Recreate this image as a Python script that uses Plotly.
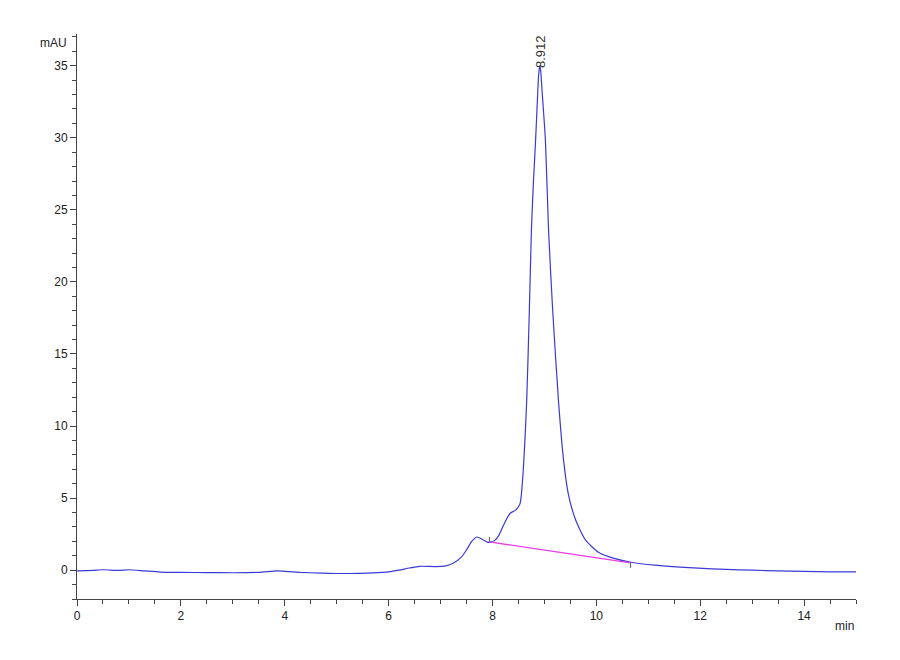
import plotly.graph_objects as go

# Хроматограмма: время удерживания (мин) и сигнал (mAU)
time_min = [0.0, 0.3, 0.5, 0.8, 1.0, 1.3, 1.6, 2.0, 2.5, 3.0, 3.5, 3.85, 4.0, 4.3,
            4.7, 5.0, 5.4, 5.8, 6.0, 6.2, 6.4, 6.6, 6.9, 7.1, 7.25, 7.4, 7.5, 7.6,
            7.7, 7.8, 7.9, 7.96, 8.04, 8.12, 8.21, 8.34, 8.44, 8.53, 8.57,
            8.61, 8.66, 8.71, 8.75, 8.79, 8.83, 8.87, 8.89, 8.912, 8.93, 8.96,
            9.02, 9.08, 9.16, 9.27, 9.37, 9.46, 9.6, 9.79, 10.04, 10.36, 10.67,
            11.13, 11.96, 12.5, 13.0, 13.5, 14.0, 14.5, 15.0]
signal_mau = [-0.05, -0.02, 0.03, -0.02, 0.03, -0.05, -0.13, -0.15, -0.17, -0.18,
              -0.15, -0.05, -0.08, -0.15, -0.2, -0.23, -0.22, -0.17, -0.12, 0.0,
              0.15, 0.27, 0.25, 0.3, 0.5, 0.9, 1.4, 2.0, 2.3, 2.15, 1.95, 1.94,
              2.05, 2.4, 3.1, 3.95, 4.15, 4.6, 5.8, 8.0, 11.8, 18.0, 23.6,
              27.0, 29.8, 33.0, 34.4, 35.0, 34.6, 33.0, 29.8, 23.6, 18.0, 11.8,
              7.6, 5.3, 3.5, 2.1, 1.25, 0.8, 0.55, 0.35, 0.14, 0.05, 0.0, -0.05,
              -0.08, -0.12, -0.12]

# Базовая линия интегрирования пика
baseline_x = [7.94, 10.66]
baseline_y = [1.96, 0.51]

peak_rt = 8.912
peak_height = 35.0

fig = go.Figure()

fig.add_trace(go.Scatter(
    x=time_min, y=signal_mau, mode='lines',
    line=dict(color='#3a3ad6', width=1.2, shape='spline', smoothing=0.6),
    showlegend=False, hoverinfo='skip'
))

fig.add_trace(go.Scatter(
    x=baseline_x, y=baseline_y, mode='lines',
    line=dict(color='#e83ee8', width=1.3),
    showlegend=False, hoverinfo='skip'
))

# Маркеры начала и конца интегрирования
fig.add_shape(type='line', x0=baseline_x[0], x1=baseline_x[0],
              y0=baseline_y[0], y1=baseline_y[0] + 0.35,
              line=dict(color='#555555', width=1))
fig.add_shape(type='line', x0=baseline_x[1], x1=baseline_x[1],
              y0=baseline_y[1], y1=baseline_y[1] - 0.35,
              line=dict(color='#555555', width=1))

fig.add_annotation(
    x=peak_rt, y=peak_height, text=f'{peak_rt:.3f}', textangle=-90,
    showarrow=False, xanchor='center', yanchor='bottom', yshift=-4,
    font=dict(family='Liberation Sans, Arial', size=13, color='#333333')
)

fig.add_annotation(
    xref='paper', yref='y', x=-0.01, y=36.6, text='mAU',
    showarrow=False, xanchor='right', yanchor='middle',
    font=dict(family='Liberation Sans, Arial', size=12, color='#222222')
)
fig.add_annotation(
    xref='paper', yref='paper', x=1.0, y=-0.032, text='min',
    showarrow=False, xanchor='right', yanchor='top',
    font=dict(family='Liberation Sans, Arial', size=12, color='#222222')
)

axis_style = dict(
    showgrid=False, zeroline=False, showline=True, linecolor='#444444',
    linewidth=1, ticks='outside', ticklen=6, tickcolor='#444444',
    tickfont=dict(family='Liberation Sans, Arial', size=12, color='#222222'),
)

fig.update_xaxes(range=[0, 15], tickvals=[0, 2, 4, 6, 8, 10, 12, 14],
                 minor=dict(dtick=0.5, ticks='outside', ticklen=4, tickcolor='#444444'),
                 **axis_style)
fig.update_yaxes(range=[-2, 37.2], tickvals=[0, 5, 10, 15, 20, 25, 30, 35],
                 minor=dict(dtick=1, ticks='outside', ticklen=4, tickcolor='#444444'),
                 **axis_style)

fig.update_layout(
    width=900, height=660,
    margin=dict(l=69, r=52, t=26, b=69),
    plot_bgcolor='white', paper_bgcolor='white',
    showlegend=False
)

fig.write_html("out.html")
